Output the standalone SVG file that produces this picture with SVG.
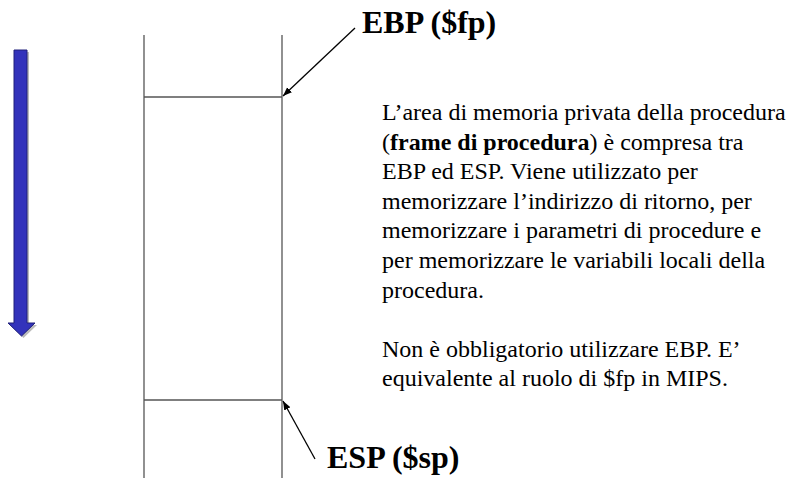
<svg xmlns="http://www.w3.org/2000/svg" width="790" height="478" viewBox="0 0 790 478">
<style>
.ln{stroke:#555;stroke-width:1.3;fill:none}
.ptr{stroke:#000;stroke-width:1.3;fill:none}
.lbl{font-family:"Liberation Serif","Times New Roman",serif;font-weight:bold;font-size:32px;fill:#000}
.body{font-family:"Liberation Serif","Times New Roman",serif;font-size:24px;fill:#000}
</style>
<defs>
<marker id="ah" markerWidth="10" markerHeight="10" refX="9" refY="5" orient="auto" markerUnits="userSpaceOnUse">
<path d="M0,1.5 L9,5 L0,8.5 Z" fill="#000"/>
</marker>
</defs>
<rect width="790" height="478" fill="#fff"/>
<g id="direction-arrow">
<polygon points="16,52 29,52 29,325 37,325 23.5,338 10,325 16,325" fill="#bbb"/>
<polygon points="14,50 27,50 27,323 35,323 21.5,336 8,323 14,323" fill="#3333bb" stroke="#20207a" stroke-width="1"/>
</g>
<g id="stack">
<line class="ln" x1="144" y1="35" x2="144" y2="478"/>
<line class="ln" x1="282" y1="35" x2="282" y2="478"/>
<line class="ln" x1="144" y1="97" x2="282" y2="97"/>
<line class="ln" x1="144" y1="400" x2="282" y2="400"/>
</g>
<g id="connectors">
<line class="ptr" x1="355" y1="28" x2="283" y2="96" marker-end="url(#ah)"/>
<line class="ptr" x1="315" y1="459" x2="283" y2="401" marker-end="url(#ah)"/>
</g>
<g id="ebp-label"><text class="lbl" x="362" y="33">EBP ($fp)</text></g>
<g id="esp-label"><text class="lbl" x="327" y="468">ESP ($sp)</text></g>
<g id="description">
<text class="body" x="382" y="120">L’area di memoria privata della procedura</text>
<text class="body" x="382" y="149.6">(<tspan font-weight="bold">frame di procedura</tspan>) è compresa tra</text>
<text class="body" x="382" y="179.2">EBP ed ESP. Viene utilizzato per</text>
<text class="body" x="382" y="208.8">memorizzare l’indirizzo di ritorno, per</text>
<text class="body" x="382" y="238.4">memorizzare i parametri di procedure e</text>
<text class="body" x="382" y="268">per memorizzare le variabili locali della</text>
<text class="body" x="382" y="297.6">procedura.</text>
<text class="body" x="382" y="356.8">Non è obbligatorio utilizzare EBP. E’</text>
<text class="body" x="382" y="386.4">equivalente al ruolo di $fp in MIPS.</text>
</g>
</svg>
